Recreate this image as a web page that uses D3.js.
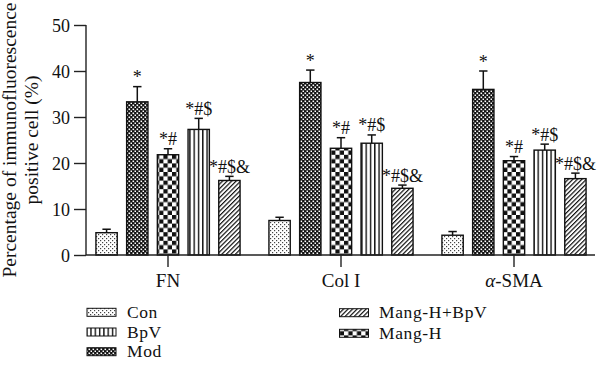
<!DOCTYPE html>
<html><head><meta charset="utf-8">
<script src="https://cdn.jsdelivr.net/npm/d3@7"></script>
<style>
html,body{margin:0;padding:0;background:#fff;}
text{font-family:"Liberation Serif","Times New Roman",serif;fill:#111;}
</style></head>
<body><svg id="c" width="600" height="366"></svg>
<script>
const groups = ["FN", "Col I", "α-SMA"];
const seriesNames = ["Con", "Mod", "Mang-H", "BpV", "Mang-H+BpV"];
const conValues = [4.85, 7.5, 4.3];
const conErr = [0.75, 0.7, 0.8];
const modValues = [33.3, 37.5, 36.0];
const modErr = [3.3, 2.7, 4.0];
const mangHValues = [21.8, 23.2, 20.5];
const mangHErr = [1.3, 2.3, 0.9];
const bpvValues = [27.3, 24.3, 22.8];
const bpvErr = [2.4, 1.8, 1.3];
const mhbValues = [16.2, 14.5, 16.6];
const mhbErr = [0.9, 0.7, 1.2];
const sigMarks = ["", "*", "*#", "*#$", "*#$&"];
const yTicks = [0, 10, 20, 30, 40, 50];
const legendLeft = ["Con", "BpV", "Mod"];
const legendRight = ["Mang-H+BpV", "Mang-H"];

const values = [conValues, modValues, mangHValues, bpvValues, mhbValues];
const errs = [conErr, modErr, mangHErr, bpvErr, mhbErr];
const patternIds = {"Con":"pCon","Mod":"pMod","Mang-H":"pMangH","BpV":"pBpV","Mang-H+BpV":"pMHB"};

const svg = d3.select("#c");
const defs = svg.append("defs");
let p = defs.append("pattern").attr("id","pCon").attr("patternUnits","userSpaceOnUse").attr("width",4).attr("height",4);
p.append("rect").attr("width",4).attr("height",4).attr("fill","#fff");
p.append("rect").attr("x",0).attr("y",0).attr("width",1.2).attr("height",1.2).attr("fill","#444");
p.append("rect").attr("x",2).attr("y",2).attr("width",1.2).attr("height",1.2).attr("fill","#444");

p = defs.append("pattern").attr("id","pMod").attr("patternUnits","userSpaceOnUse").attr("width",4).attr("height",4);
p.append("rect").attr("width",4).attr("height",4).attr("fill","#111");
p.append("rect").attr("x",0.5).attr("y",0.5).attr("width",1.6).attr("height",1.6).attr("fill","#fff");
p.append("rect").attr("x",2.5).attr("y",2.5).attr("width",1.6).attr("height",1.6).attr("fill","#fff");

p = defs.append("pattern").attr("id","pMangH").attr("patternUnits","userSpaceOnUse").attr("width",8.6).attr("height",8.6);
p.append("rect").attr("width",8.6).attr("height",8.6).attr("fill","#fff");
p.append("rect").attr("x",0).attr("y",0).attr("width",4.3).attr("height",4.3).attr("fill","#111");
p.append("rect").attr("x",4.3).attr("y",4.3).attr("width",4.3).attr("height",4.3).attr("fill","#111");

p = defs.append("pattern").attr("id","pBpV").attr("patternUnits","userSpaceOnUse").attr("width",4.3).attr("height",4);
p.append("rect").attr("width",4.3).attr("height",4).attr("fill","#fff");
p.append("rect").attr("x",0).attr("y",0).attr("width",1.4).attr("height",4).attr("fill","#111");

p = defs.append("pattern").attr("id","pMHB").attr("patternUnits","userSpaceOnUse").attr("width",3.2).attr("height",3.2).attr("patternTransform","rotate(45)");
p.append("rect").attr("width",3.2).attr("height",3.2).attr("fill","#fff");
p.append("rect").attr("x",0).attr("y",0).attr("width",1.2).attr("height",3.2).attr("fill","#111");

const x0 = d3.scaleBand().domain(groups).range([81.5, 600.5]).padding(0);
const x1 = d3.scaleBand().domain(seriesNames).range([0, x0.bandwidth()]).paddingInner(0.306).paddingOuter(0.47);
const y = d3.scaleLinear().domain([0, 50]).range([255, 25]);

const yAxis = svg.append("g").attr("transform","translate(86,0)")
  .call(d3.axisLeft(y).tickValues(yTicks).tickSize(12).tickPadding(4).tickFormat(d3.format("d")));
yAxis.attr("font-family", null);
yAxis.selectAll("text").style("font-size","18px").attr("dy","0.35em");
yAxis.select(".domain").attr("d","M0,25V255").attr("stroke","#222").attr("stroke-width",1.4);
yAxis.selectAll(".tick line").attr("stroke","#222").attr("stroke-width",1.4);

seriesNames.forEach((s, si) => {
  const g = svg.append("g");
  groups.forEach((grp, gi) => {
    const v = values[si][gi], e = errs[si][gi];
    const bx = x0(grp) + x1(s), bw = x1.bandwidth();
    g.append("line").attr("x1",bx+bw/2).attr("x2",bx+bw/2).attr("y1",y(v)).attr("y2",y(v+e))
      .attr("stroke","#111").attr("stroke-width",1.5);
    g.append("line").attr("x1",bx+bw/2-4.2).attr("x2",bx+bw/2+4.2).attr("y1",y(v+e)).attr("y2",y(v+e))
      .attr("stroke","#111").attr("stroke-width",1.5);
    g.append("rect").attr("x",bx).attr("y",y(v)).attr("width",bw).attr("height",y(0)-y(v))
      .attr("fill","url(#"+patternIds[s]+")").attr("stroke","#111").attr("stroke-width",1.4);
    if (sigMarks[si]) {
      g.append("text").attr("x",bx+bw/2).attr("y",y(v+e)-3.5).attr("text-anchor","middle")
        .style("font-size","18px").text(sigMarks[si]);
    }
  });
});

const xAxis = svg.append("g").attr("transform","translate(0,255)")
  .call(d3.axisBottom(x0).tickSize(12).tickFormat(""));
xAxis.select(".domain").attr("d","M86,0H595").attr("stroke","#222").attr("stroke-width",1.4);
xAxis.selectAll(".tick line").attr("stroke","#222").attr("stroke-width",1.4);
groups.forEach(grp => {
  const t = svg.append("text").attr("x", x0(grp)+x0.bandwidth()/2).attr("y",287).attr("text-anchor","middle").style("font-size","19px");
  if (grp.startsWith("α")) {
    t.append("tspan").style("font-style","italic").text("α");
    t.append("tspan").text(grp.slice(1));
  } else t.text(grp);
});

const yt = svg.append("text").attr("transform","translate(16,140) rotate(-90)").attr("text-anchor","middle").style("font-size","19.5px");
yt.append("tspan").attr("x",0).attr("y",0).text("Percentage of immunofluorescence");
yt.append("tspan").attr("x",0).attr("y",22).text("positive cell (%)");

function legendCol(items, sx, tx, y0, step) {
  items.forEach((s, i) => {
    const cy = y0 + i*step;
    svg.append("rect").attr("x",sx).attr("y",cy-4).attr("width",29).attr("height",8)
      .attr("fill","url(#"+patternIds[s]+")").attr("stroke","#111").attr("stroke-width",1);
    svg.append("text").attr("x",tx).attr("y",cy+5.5).style("font-size","17.5px").style("letter-spacing","0.6px").text(s);
  });
}
legendCol(legendLeft, 87, 127, 312.3, 19.7);
legendCol(legendRight, 339.5, 379, 312.7, 20.6);
</script></body></html>
